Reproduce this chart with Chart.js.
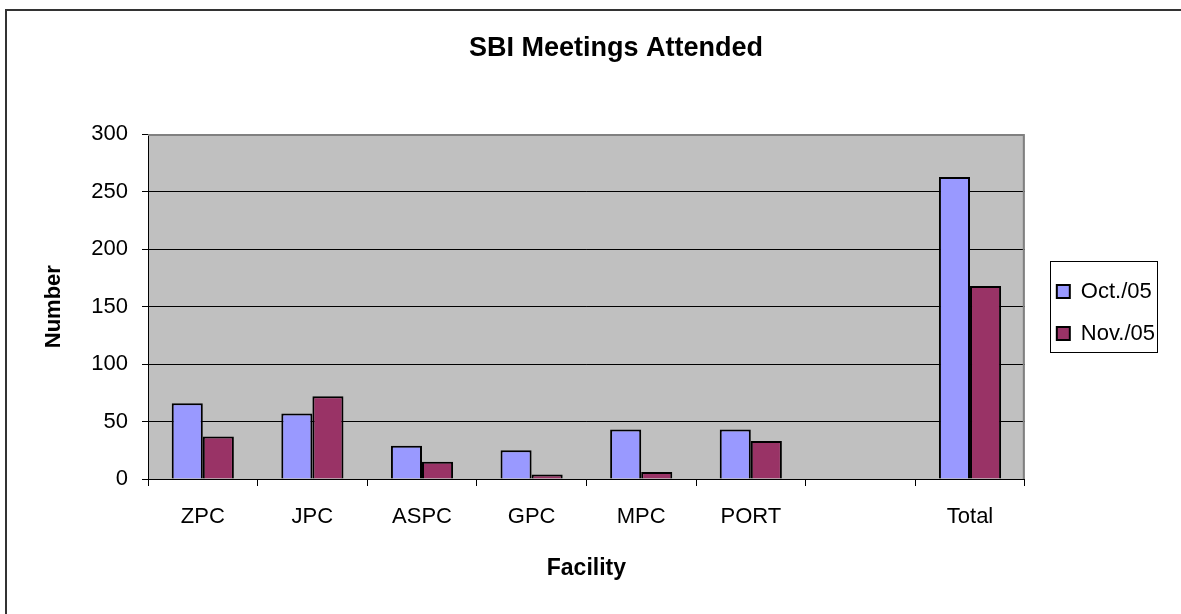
<!DOCTYPE html>
<html>
<head>
<meta charset="utf-8">
<script src="https://cdn.jsdelivr.net/npm/chart.js@4.4.1/dist/chart.umd.min.js"></script>
<style>
  html, body { margin: 0; padding: 0; background: #fff; overflow: hidden; }
  #frame {
    position: absolute; left: 5px; top: 9px;
    width: 1240px; height: 620px;
    border-left: 2px solid #333;
    border-top: 2px solid #333;
  }
  #frame canvas { display: block; }
</style>
</head>
<body>
<div id="frame"><canvas id="chart" width="1218" height="603"></canvas></div>
<script>
// Chart data
const facilities = ['ZPC', 'JPC', 'ASPC', 'GPC', 'MPC', 'PORT', '', 'Total'];
const oct05 = [66, 57, 29, 25, 43, 43, null, 263];
const nov05 = [37, 72, 15, 4, 6, 33, null, 168];
const yTicks = [0, 50, 100, 150, 200, 250, 300];

const FONT = 'Arial, "Liberation Sans", sans-serif';

// grey plot area + grey top/right border, like the old spreadsheet chart
const plotBackground = {
    id: 'plotBackground',
    beforeDraw(chart) {
        const a = chart.chartArea;
        const ctx = chart.ctx;
        ctx.save();
        ctx.fillStyle = '#c0c0c0';
        ctx.fillRect(a.left, a.top, a.right - a.left, a.bottom - a.top);
        ctx.restore();
    },
    afterDatasetsDraw(chart) {
        const a = chart.chartArea;
        const ctx = chart.ctx;
        ctx.save();
        ctx.strokeStyle = '#808080';
        ctx.lineWidth = 2;
        ctx.beginPath();
        ctx.moveTo(a.left, a.top + 0.5);
        ctx.lineTo(a.right - 1, a.top + 0.5);
        ctx.lineTo(a.right - 1, a.bottom);
        ctx.stroke();
        ctx.restore();
    }
};

// frame around the legend items
const legendBox = {
    id: 'legendBox',
    afterDraw(chart) {
        const l = chart.legend;
        if (!l || !l.legendHitBoxes.length) return;
        const hb = l.legendHitBoxes;
        const first = hb[0];
        const last = hb[hb.length - 1];
        const x0 = first.left - 7;
        const y0 = first.top - 20;
        const x1 = l.right - 8;
        const y1 = last.top + last.height + 7;
        const ctx = chart.ctx;
        ctx.save();
        ctx.strokeStyle = '#000';
        ctx.lineWidth = 1;
        ctx.strokeRect(Math.round(x0) + 0.5, Math.round(y0) + 0.5, Math.round(x1 - x0), Math.round(y1 - y0));
        ctx.restore();
    }
};

// empty spacer axes on the right, used only to place the legend
function spacer(width, weight) {
    return {
        position: 'right',
        weight: weight,
        display: true,
        grid: { display: false },
        border: { display: false },
        ticks: { display: false },
        afterFit(axis) { axis.width = width; }
    };
}

const ctx = document.getElementById('chart').getContext('2d');
new Chart(ctx, {
    type: 'bar',
    data: {
        labels: facilities,
        datasets: [
            {
                label: 'Oct./05',
                data: oct05,
                backgroundColor: '#9999ff',
                borderColor: '#000',
                borderWidth: 2
            },
            {
                label: 'Nov./05',
                data: nov05,
                backgroundColor: '#993366',
                borderColor: '#000',
                borderWidth: 2
            }
        ]
    },
    options: {
        responsive: false,
        animation: false,
        layout: { padding: 0 },
        datasets: {
            bar: { categoryPercentage: 0.567, barPercentage: 1.0 }
        },
        plugins: {
            title: {
                display: true,
                text: 'SBI Meetings Attended',
                color: '#000',
                font: { family: FONT, size: 27, weight: 'bold', lineHeight: 1.2 },
                padding: { top: 21, bottom: 70 }
            },
            legend: {
                position: 'right',
                labels: {
                    color: '#000',
                    font: { family: FONT, size: 22, lineHeight: 1 },
                    boxWidth: 13,
                    boxHeight: 13,
                    padding: 20,
                    generateLabels(chart) {
                        return chart.data.datasets.map((ds, i) => ({
                            text: ds.label,
                            fillStyle: ds.backgroundColor,
                            strokeStyle: '#000',
                            lineWidth: 2,
                            fontColor: '#000',
                            datasetIndex: i
                        }));
                    }
                }
            },
            tooltip: { enabled: false }
        },
        scales: {
            x: {
                grid: {
                    offset: true,
                    drawOnChartArea: false,
                    color: '#000',
                    tickLength: 7,
                    tickColor: '#000'
                },
                border: { color: '#000', width: 1 },
                ticks: {
                    color: '#000',
                    font: { family: FONT, size: 22 },
                    padding: 18,
                    maxRotation: 0,
                    autoSkip: false
                },
                title: {
                    display: true,
                    text: 'Facility',
                    color: '#000',
                    font: { family: FONT, size: 23, weight: 'bold' },
                    padding: { top: 0, bottom: 32 }
                },
                afterFit(axis) { axis.height = 135; }
            },
            y: {
                min: 0,
                max: 300,
                afterBuildTicks(axis) {
                    axis.ticks = yTicks.map(v => ({ value: v }));
                },
                grid: {
                    color: c => (c.tick && c.tick.value === 300) ? 'rgba(0,0,0,0)' : '#000',
                    tickLength: 6,
                    tickColor: '#000'
                },
                border: { color: '#000', width: 1 },
                ticks: {
                    color: '#000',
                    font: { family: FONT, size: 22 },
                    padding: 14
                },
                title: {
                    display: true,
                    text: 'Number',
                    color: '#000',
                    font: { family: FONT, size: 22, weight: 'bold' },
                    padding: { top: 34, bottom: 0 }
                },
                afterFit(axis) { axis.width = 141; }
            },
            gapInner: spacer(12, 0),
            gapOuter: spacer(60, 2000)
        }
    },
    plugins: [plotBackground, legendBox]
});
</script>
</body>
</html>
